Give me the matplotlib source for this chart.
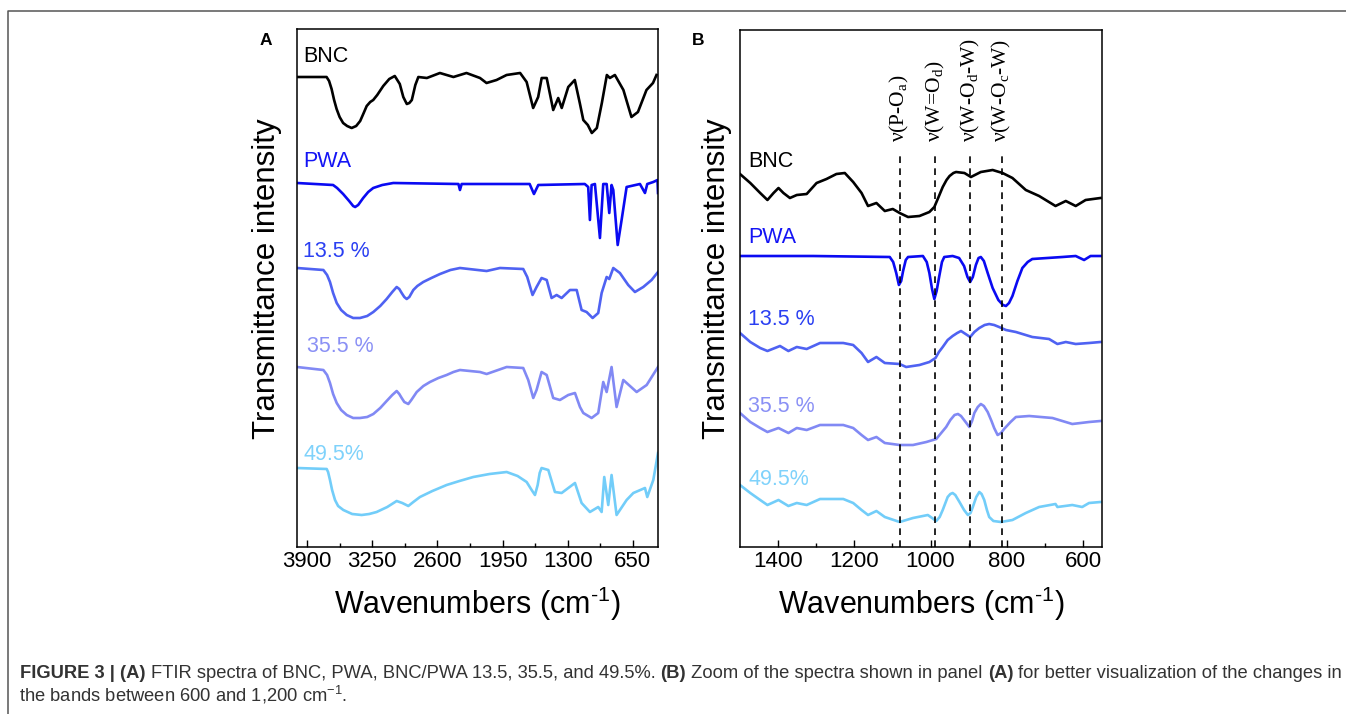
import matplotlib
matplotlib.use("Agg")
from matplotlib import pyplot as plt
from matplotlib.lines import Line2D

# panel A: full range spectra (wavenumber, offset transmittance)
A_WN_BNC = [4000, 3705, 3680, 3655, 3630, 3605, 3575, 3540, 3500, 3455,
            3410, 3370, 3335, 3305, 3270, 3240, 3200, 3140, 3080, 3025,
            2975, 2940, 2905, 2880, 2855, 2820, 2790, 2705, 2575, 2440,
            2310, 2175, 2110, 2010, 1910, 1775, 1710, 1645, 1595, 1560,
            1510, 1445, 1395, 1360, 1295, 1230, 1180, 1145, 1100, 1060,
            1010, 960, 910, 880, 830, 745, 665, 600, 515, 450,
            415]
A_BNC = [470, 470, 466, 458, 447, 438, 430, 424, 421, 419,
         421, 426, 434, 441, 445, 447, 452, 461, 468, 471,
         463, 450, 443, 444, 447, 462, 470, 469, 474, 470,
         474, 469, 464, 467, 472, 474, 465, 439, 450, 469,
         469, 437, 449, 439, 460, 467, 444, 427, 422, 414,
         419, 444, 472, 469, 472, 457, 430, 435, 457, 464,
         472]

A_WN_PWA = [4000, 3640, 3600, 3540, 3480, 3440, 3420, 3390, 3340, 3290,
            3240, 3150, 3040, 2390, 2375, 2358, 1680, 1637, 1594, 1130,
            1096, 1079, 1062, 1029, 979, 946, 912, 886, 863, 846,
            802, 763, 713, 580, 530, 507, 447, 405, 400]
A_PWA = [364, 362, 359, 353, 346, 341, 340, 342, 349, 355,
         359, 362, 364, 363, 357, 363, 363, 353, 362, 363,
         360, 327, 362, 363, 309, 363, 363, 334, 362, 357,
         302, 327, 360, 363, 354, 363, 365, 367, 354]

A_WN_135 = [4000, 3737, 3700, 3671, 3640, 3604, 3560, 3504, 3440, 3372,
            3300, 3239, 3170, 3106, 3050, 3006, 2980, 2956, 2930, 2906,
            2880, 2840, 2800, 2741, 2660, 2574, 2470, 2375, 2109, 1976,
            1744, 1704, 1651, 1611, 1561, 1510, 1461, 1411, 1361, 1278,
            1211, 1162, 1112, 1052, 996, 962, 912, 886, 846, 780,
            697, 630, 547, 464, 400]
A_135 = [279, 277, 272, 265, 254, 244, 237, 232, 229, 229,
         231, 235, 241, 248, 255, 260, 258, 254, 250, 248,
         250, 257, 261, 265, 269, 273, 277, 279, 276, 279,
         278, 270, 252, 260, 269, 267, 249, 252, 249, 257,
         257, 237, 235, 229, 234, 254, 270, 268, 279, 274,
         262, 255, 260, 267, 275]

A_WN_355 = [4000, 3737, 3700, 3671, 3640, 3604, 3560, 3504, 3440, 3372,
            3300, 3239, 3170, 3106, 3050, 3006, 2980, 2956, 2930, 2890,
            2860, 2806, 2740, 2674, 2590, 2508, 2440, 2375, 2175, 2109,
            1909, 1744, 1694, 1644, 1611, 1561, 1510, 1445, 1378, 1295,
            1228, 1178, 1145, 1062, 996, 946, 912, 863, 813, 746,
            613, 513, 400]
A_355 = [180, 177, 172, 164, 153, 144, 137, 132, 129, 129,
         130, 133, 139, 146, 152, 156, 153, 149, 145, 143,
         147, 155, 161, 165, 169, 172, 175, 177, 175, 173,
         180, 179, 167, 149, 157, 175, 172, 149, 147, 152,
         154, 140, 134, 129, 134, 165, 155, 180, 140, 167,
         155, 162, 180]

A_WN_495 = [4000, 3704, 3690, 3671, 3650, 3621, 3590, 3538, 3450, 3355,
            3280, 3206, 3100, 3006, 2950, 2890, 2840, 2774, 2650, 2508,
            2380, 2242, 2080, 1909, 1800, 1710, 1660, 1627, 1600, 1580,
            1561, 1494, 1428, 1361, 1228, 1162, 1079, 996, 962, 936,
            896, 863, 813, 713, 646, 530, 507, 447, 400]
A_495 = [79, 78, 75, 67, 57, 47, 41, 37, 33, 32,
         33, 35, 40, 46, 44, 41, 45, 50, 56, 62,
         66, 70, 73, 75, 71, 65, 57, 52, 62, 74,
         79, 77, 55, 54, 64, 44, 35, 40, 35, 70,
         42, 72, 32, 47, 54, 59, 50, 67, 94]

# panel B: zoom 1500-550 cm-1
B_WN_BNC = [1500, 1473, 1447, 1428, 1412, 1399, 1386, 1369, 1351, 1325,
            1299, 1273, 1247, 1225, 1203, 1181, 1164, 1142, 1120, 1099,
            1081, 1059, 1029, 1003, 990, 980, 968, 958, 950, 940,
            933, 911, 894, 868, 837, 811, 785, 750, 715, 672,
            645, 619, 593, 554]
B_BNC = [373, 364, 354, 347, 354, 359, 354, 349, 352, 353,
         364, 368, 373, 374, 365, 354, 341, 344, 336, 338,
         334, 330, 331, 335, 340, 349, 360, 367, 371, 374,
         375, 374, 370, 375, 377, 374, 369, 357, 351, 341,
         346, 341, 347, 349]

B_WN_PWA = [1500, 1308, 1107, 1098, 1090, 1083, 1077, 1072, 1065, 1059,
            1020, 1010, 1003, 996, 990, 984, 977, 970, 964, 942,
            925, 912, 903, 896, 889, 881, 874, 868, 860, 850,
            837, 822, 810, 802, 794, 785, 772, 759, 745, 733,
            654, 619, 597, 580, 554]
B_PWA = [291, 291, 290, 285, 274, 262, 266, 276, 287, 290,
         291, 285, 274, 258, 248, 256, 271, 285, 290, 291,
         289, 281, 270, 265, 270, 282, 289, 290, 286, 274,
         259, 247, 242, 241, 244, 251, 266, 279, 285, 288,
         290, 291, 287, 291, 291]

B_WN_135 = [1500, 1473, 1447, 1428, 1395, 1373, 1351, 1325, 1290, 1229,
            1203, 1181, 1164, 1142, 1120, 1081, 1064, 1029, 1003, 987,
            978, 968, 955, 942, 930, 920, 908, 896, 885, 872,
            858, 846, 833, 820, 802, 776, 733, 689, 667, 645,
            619, 584, 554]
B_135 = [214, 205, 199, 196, 201, 196, 200, 198, 204, 204,
         202, 194, 185, 190, 184, 183, 180, 182, 185, 189,
         195, 200, 207, 211, 214, 216, 213, 210, 215, 219,
         222, 223, 222, 220, 217, 215, 210, 208, 203, 205,
         203, 204, 205]

B_WN_355 = [1500, 1473, 1447, 1428, 1399, 1373, 1351, 1325, 1290, 1229,
            1203, 1181, 1164, 1142, 1120, 1081, 1046, 1011, 985, 959,
            948, 937, 928, 920, 910, 898, 891, 885, 876, 868,
            860, 850, 840, 833, 824, 815, 807, 790, 776, 741,
            680, 628, 584, 554]
B_355 = [134, 125, 119, 115, 119, 114, 119, 117, 122, 122,
         119, 112, 107, 110, 104, 102, 102, 105, 108, 120,
         127, 132, 133, 131, 126, 120, 126, 134, 140, 143,
         141, 135, 126, 119, 112, 114, 118, 125, 130, 131,
         129, 123, 125, 126]

B_WN_495 = [1500, 1473, 1447, 1428, 1399, 1373, 1351, 1325, 1290, 1229,
            1203, 1181, 1164, 1142, 1120, 1081, 1046, 1007, 985, 976,
            968, 960, 955, 948, 942, 935, 924, 912, 902, 895,
            889, 880, 872, 866, 859, 852, 846, 835, 815, 785,
            750, 715, 672, 667, 628, 602, 584, 554]
B_495 = [62, 54, 47, 42, 47, 41, 44, 42, 48, 48,
         44, 37, 32, 36, 30, 25, 29, 32, 26, 30,
         37, 45, 50, 53, 54, 52, 45, 37, 32, 34,
         40, 50, 55, 53, 47, 37, 30, 26, 25, 27,
         34, 40, 43, 40, 42, 40, 44, 45]

SAMPLES = ["BNC", "PWA", "13.5 %", "35.5 %", "49.5%"]
LINE_COLORS = ["#000000", "#0a0af2", "#4f62f2", "#8189f4", "#72cdf9"]
LABEL_COLORS = ["#000000", "#1414f5", "#2a3ff2", "#8a90f5", "#7fd2fb"]

A_TICKS = [3900, 3250, 2600, 1950, 1300, 650]
B_TICKS = [1400, 1200, 1000, 800, 600]

BANDS = [1081, 987, 896, 813]
BAND_LABELS = [r"ν(P-O$_\mathregular{a}$)", r"ν(W=O$_\mathregular{d}$)",
               r"ν(W-O$_\mathregular{d}$-W)", r"ν(W-O$_\mathregular{c}$-W)"]

CAPTION_1 = [("FIGURE 3 | (A)", True),
             ("FTIR spectra of BNC, PWA, BNC/PWA 13.5, 35.5, and 49.5%.", False),
             ("(B)", True),
             ("Zoom of the spectra shown in panel", False),
             ("(A)", True),
             ("for better visualization of the changes in", False)]
CAPTION_2 = r"the bands between 600 and 1,200 cm$^{\mathregular{−1}}$."

W, H = 1346, 714


def style_axes(ax, xlim, ylim, ticks, minor):
  ax.set_xlim(*xlim)
  ax.set_ylim(*ylim)
  ax.set_xticks(ticks)
  ax.set_xticks(minor, minor=True)
  ax.set_yticks([])
  ax.tick_params(axis="x", which="major", direction="in", length=5,
                 width=1, labelsize=16, pad=3)
  ax.tick_params(axis="x", which="minor", direction="in", length=2.8, width=1)
  for s in ax.spines.values():
    s.set_linewidth(1.1)
  ax.set_xlabel("Wavenumbers (cm$^{\\mathregular{\u20101}}$)", fontsize=22,
                labelpad=9)


def add_caption(fig, ax, x, y, parts, size, color):
  # bold and plain pieces chained one after the other on the same baseline
  prev = None
  for text, bold in parts:
    weight = "bold" if bold else "normal"
    if prev is None:
      prev = fig.text(x, y, text, fontsize=size, weight=weight, color=color,
                      ha="left", va="baseline")
    else:
      prev = ax.annotate(text, xy=(1, 0), xycoords=prev, xytext=(size * 0.278, 0),
                         textcoords="offset points", fontsize=size, weight=weight,
                         color=color, ha="left", va="bottom", annotation_clip=False)


def main():
  plt.rcParams["font.family"] = ["Liberation Sans", "DejaVu Sans"]
  fig = plt.figure(figsize=(W / 100, H / 100), dpi=100)

  # frame round the figure (only left and top edges are visible)
  fig.add_artist(Line2D([8 / W, 8 / W, 1], [0, 1 - 10.5 / H, 1 - 10.5 / H],
                        transform=fig.transFigure, color="#555555", lw=1.1))

  axA = fig.add_axes([297 / W, 1 - 547 / H, 361 / W, 518 / H])
  axB = fig.add_axes([740 / W, 1 - 547 / H, 362 / W, 517 / H])

  a_series = [(A_WN_BNC, A_BNC), (A_WN_PWA, A_PWA), (A_WN_135, A_135),
              (A_WN_355, A_355), (A_WN_495, A_495)]
  b_series = [(B_WN_BNC, B_BNC), (B_WN_PWA, B_PWA), (B_WN_135, B_135),
              (B_WN_355, B_355), (B_WN_495, B_495)]

  for (wn, y), c in zip(a_series, LINE_COLORS):
    axA.plot(wn, y, color=c, lw=1.9, solid_joinstyle="round")
  for (wn, y), c in zip(b_series, LINE_COLORS):
    axB.plot(wn, y, color=c, lw=1.9, solid_joinstyle="round")

  style_axes(axA, (4000, 400), (0, 518), A_TICKS, [3575, 2925, 2275, 1625, 975])
  style_axes(axB, (1500, 550), (0, 517), B_TICKS, [1300, 1100, 900, 700])

  # sample names above each trace
  a_pos = [(3940, 485), (3940, 380), (3940, 290), (3903, 195), (3940, 87)]
  b_pos = [(1478, 380), (1478, 304), (1478, 222), (1478, 135), (1478, 62)]
  for name, c, (x, y) in zip(SAMPLES, LABEL_COLORS, a_pos):
    axA.text(x, y, name, color=c, fontsize=15.5, ha="left", va="baseline")
  for name, c, (x, y) in zip(SAMPLES, LABEL_COLORS, b_pos):
    axB.text(x, y, name, color=c, fontsize=15.5, ha="left", va="baseline")

  # band assignments
  axB.vlines(BANDS, 0, 392, colors="k", lw=1.2, linestyles=(0, (4, 3.2)))
  for b, lab in zip(BANDS, BAND_LABELS):
    axB.text(b, 405, lab, rotation=90, ha="center", va="bottom", fontsize=15.5,
             family=["Liberation Serif", "DejaVu Serif"])

  fig.text(267 / W, 1 - 279 / H, "Transmittance intensity", rotation=90,
           fontsize=22.5, ha="center", va="center")
  fig.text(717 / W, 1 - 279 / H, "Transmittance intensity", rotation=90,
           fontsize=22.5, ha="center", va="center")
  fig.text(260 / W, 1 - 45 / H, "A", fontsize=12.5, weight="bold")
  fig.text(692 / W, 1 - 45 / H, "B", fontsize=12.5, weight="bold")

  add_caption(fig, axA, 20 / W, 1 - 678 / H, CAPTION_1, 13.2, "#333333")
  fig.text(19 / W, 1 - 702 / H, CAPTION_2, fontsize=13.2, color="#333333",
           ha="left", va="baseline")

  fig.savefig("out.png", dpi=100)


if __name__ == "__main__":
  main()
